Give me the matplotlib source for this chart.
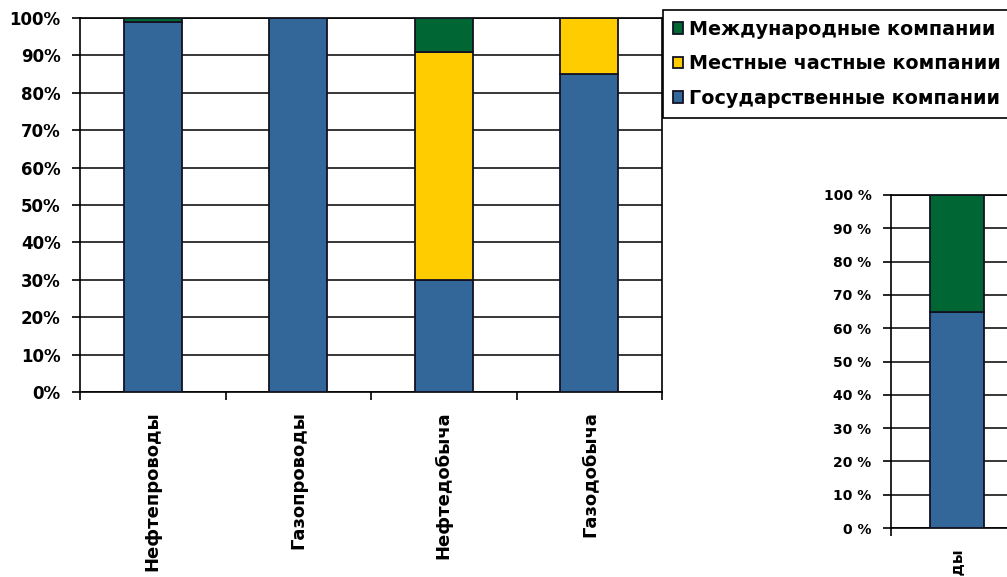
import matplotlib.pyplot as plt
import numpy as np

# Доли компаний по сегментам, %
categories = ['Нефтепроводы', 'Газопроводы', 'Нефтедобыча', 'Газодобыча']
state = [99, 100, 30, 85]
local_private = [0, 0, 61, 15]
international = [1, 0, 9, 0]

# Второй график (виден только первый столбец)
categories2 = ['Нефтепроводы']
state2 = [65]
local_private2 = [0]
international2 = [35]

series_names = ['Государственные компании', 'Местные частные компании', 'Международные компании']
colors = ['#336699', '#FFCC00', '#006633']

yticks = np.arange(0, 101, 10)

plt.rcParams['font.family'] = 'DejaVu Sans'
plt.rcParams['font.weight'] = 'bold'

fig = plt.figure(figsize=(10.07, 5.77), dpi=100)


def stacked(ax, cats, layers, width, ylabels, fs):
    x = np.arange(len(cats))
    bottom = np.zeros(len(cats))
    handles = []
    for vals, col, name in zip(layers, colors, series_names):
        vals = np.array(vals, dtype=float)
        h = ax.bar(x, vals, width, bottom=bottom, color=col, edgecolor='#111122',
                   linewidth=1.3, label=name, zorder=3)
        handles.append(h)
        bottom += vals
    ax.set_ylim(0, 100)
    ax.set_yticks(yticks)
    ax.set_yticklabels(ylabels, fontsize=fs, fontweight='bold')
    ax.grid(axis='y', color='black', linewidth=1.1, zorder=0)
    ax.set_xticks(x)
    ax.set_xticklabels(cats, rotation=90, fontsize=fs + 1, fontweight='bold', va='top')
    ax.set_xticks(np.arange(len(cats) + 1) - 0.5, minor=True)
    ax.tick_params(axis='x', which='major', length=0, pad=14)
    ax.tick_params(axis='x', which='minor', length=6, width=1.2, direction='out')
    ax.tick_params(axis='y', length=6, width=1.2, direction='out', pad=8)
    for s in ax.spines.values():
        s.set_color('black')
        s.set_linewidth(1.2)
    return handles


ax = fig.add_axes([80 / 1007, 185 / 577, 582 / 1007, 374 / 577])
handles = stacked(ax, categories, [state, local_private, international], 0.4,
                  [f'{v}%' for v in yticks], 12)
ax.set_xlim(-0.5, len(categories) - 0.5)

ax2 = fig.add_axes([891 / 1007, 49 / 577, 264 / 1007, 333 / 577])
stacked(ax2, categories2, [state2, local_private2, international2], 0.41,
        [f'{v} %' for v in yticks], 10)
ax2.set_xlim(-0.5, 1.5)
ax2.spines['right'].set_visible(False)

leg = fig.legend(handles[::-1], series_names[::-1], loc='upper left',
                 bbox_to_anchor=(663 / 1007, 1 - 10 / 577),
                 prop={'size': 13.8, 'weight': 'bold'},
                 fancybox=False, edgecolor='black', framealpha=1,
                 handlelength=0.55, handleheight=0.55, handletextpad=0.3,
                 labelspacing=0.82, borderpad=0.5, borderaxespad=0)
leg.get_frame().set_linewidth(1.2)

fig.savefig('out.png', dpi=100)
